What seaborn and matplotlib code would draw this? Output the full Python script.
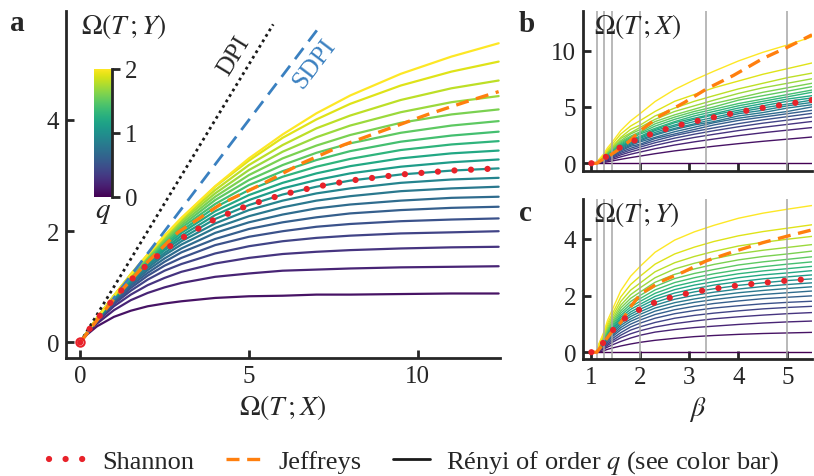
import numpy as np
import pandas as pd
import matplotlib
matplotlib.use('Agg')
import matplotlib.pyplot as plt
import seaborn as sns
from matplotlib.lines import Line2D

# Rényi orders (colour bar), q = 0 .. 2
q_orders = [0.0, 0.1, 0.2, 0.3, 0.4, 0.5, 0.6, 0.7, 0.8, 0.9, 1.0,
            1.1, 1.2, 1.3, 1.4, 1.5, 1.6, 1.7, 1.8, 1.9, 2.0]

# panel a: Omega(T;Y) read at fixed Omega(T;X) positions, one row per q = 0.1 .. 2.0
omega_tx_grid = [0, 0.2, 0.5, 1, 1.5, 2, 2.5, 3, 4, 5, 6, 7, 8, 9.5, 11, 12.4]
omega_ty_a = [
    [0, 0.14, 0.29, 0.46, 0.57, 0.65, 0.70, 0.74, 0.80, 0.83, 0.84, 0.86, 0.86, 0.87, 0.88, 0.88],
    [0, 0.16, 0.34, 0.58, 0.76, 0.89, 0.99, 1.07, 1.18, 1.24, 1.29, 1.31, 1.33, 1.35, 1.36, 1.37],
    [0, 0.16, 0.37, 0.65, 0.86, 1.03, 1.16, 1.27, 1.42, 1.52, 1.59, 1.63, 1.66, 1.69, 1.71, 1.72],
    [0, 0.17, 0.38, 0.69, 0.93, 1.13, 1.29, 1.41, 1.60, 1.73, 1.82, 1.88, 1.92, 1.96, 1.98, 2.00],
    [0, 0.17, 0.39, 0.71, 0.98, 1.20, 1.38, 1.52, 1.75, 1.90, 2.00, 2.08, 2.13, 2.18, 2.21, 2.23],
    [0, 0.17, 0.40, 0.74, 1.02, 1.25, 1.45, 1.62, 1.86, 2.04, 2.16, 2.25, 2.32, 2.38, 2.42, 2.44],
    [0, 0.17, 0.41, 0.75, 1.05, 1.30, 1.51, 1.69, 1.97, 2.16, 2.30, 2.41, 2.48, 2.55, 2.60, 2.62],
    [0, 0.17, 0.41, 0.77, 1.08, 1.34, 1.57, 1.76, 2.06, 2.27, 2.43, 2.55, 2.63, 2.72, 2.77, 2.80],
    [0, 0.18, 0.42, 0.78, 1.10, 1.38, 1.61, 1.82, 2.14, 2.38, 2.55, 2.68, 2.77, 2.87, 2.93, 2.96],
    [0, 0.18, 0.42, 0.79, 1.12, 1.41, 1.66, 1.87, 2.22, 2.47, 2.66, 2.80, 2.91, 3.02, 3.09, 3.13],
    [0, 0.18, 0.42, 0.80, 1.14, 1.43, 1.69, 1.92, 2.29, 2.56, 2.77, 2.92, 3.04, 3.16, 3.24, 3.29],
    [0, 0.18, 0.43, 0.81, 1.15, 1.46, 1.73, 1.97, 2.36, 2.65, 2.87, 3.04, 3.17, 3.31, 3.40, 3.45],
    [0, 0.18, 0.43, 0.82, 1.17, 1.48, 1.77, 2.01, 2.43, 2.74, 2.98, 3.16, 3.30, 3.46, 3.56, 3.62],
    [0, 0.18, 0.43, 0.82, 1.18, 1.50, 1.80, 2.06, 2.49, 2.83, 3.08, 3.28, 3.44, 3.61, 3.72, 3.79],
    [0, 0.18, 0.43, 0.83, 1.19, 1.52, 1.83, 2.10, 2.56, 2.92, 3.19, 3.41, 3.58, 3.77, 3.90, 3.98],
    [0, 0.18, 0.44, 0.83, 1.20, 1.54, 1.85, 2.14, 2.62, 3.01, 3.31, 3.54, 3.73, 3.95, 4.10, 4.19],
    [0, 0.18, 0.44, 0.84, 1.21, 1.56, 1.88, 2.18, 2.68, 3.10, 3.43, 3.69, 3.90, 4.14, 4.32, 4.43],
    [0, 0.18, 0.44, 0.84, 1.22, 1.57, 1.90, 2.21, 2.74, 3.19, 3.55, 3.85, 4.08, 4.36, 4.57, 4.71],
    [0, 0.18, 0.44, 0.84, 1.23, 1.58, 1.92, 2.23, 2.80, 3.27, 3.68, 4.01, 4.29, 4.62, 4.87, 5.05],
    [0, 0.18, 0.44, 0.84, 1.22, 1.58, 1.92, 2.24, 2.81, 3.31, 3.74, 4.12, 4.44, 4.83, 5.14, 5.38],
]

# panels b and c: values against beta, one row per q = 0 .. 2
beta_grid = [1.0, 1.111, 1.16, 1.25, 1.33, 1.43, 1.6, 1.8, 2.0, 2.3, 2.7, 3.1, 3.5, 4.0, 4.5, 5.0, 5.5]
omega_tx_b = [
    [0, 0, 0, 0, 0, 0, 0, 0, 0, 0, 0, 0, 0, 0, 0, 0, 0],
    [0, 0, 0.02, 0.07, 0.13, 0.21, 0.35, 0.50, 0.64, 0.85, 1.10, 1.31, 1.51, 1.74, 1.95, 2.14, 2.33],
    [0, 0, 0.05, 0.13, 0.23, 0.35, 0.57, 0.80, 1.00, 1.29, 1.62, 1.90, 2.15, 2.45, 2.71, 2.94, 3.17],
    [0, 0, 0.07, 0.18, 0.31, 0.46, 0.74, 1.01, 1.25, 1.59, 1.97, 2.29, 2.57, 2.90, 3.19, 3.45, 3.71],
    [0, 0, 0.09, 0.22, 0.38, 0.55, 0.87, 1.18, 1.44, 1.82, 2.23, 2.58, 2.89, 3.24, 3.56, 3.83, 4.11],
    [0, 0, 0.10, 0.26, 0.44, 0.63, 0.99, 1.33, 1.60, 2.01, 2.46, 2.82, 3.14, 3.52, 3.85, 4.14, 4.43],
    [0, 0, 0.1, 0.3, 0.5, 0.7, 1.1, 1.5, 1.7, 2.2, 2.6, 3.0, 3.4, 3.8, 4.1, 4.4, 4.7],
    [0, 0, 0.1, 0.3, 0.5, 0.8, 1.2, 1.6, 1.9, 2.3, 2.8, 3.2, 3.6, 4.0, 4.3, 4.6, 5.0],
    [0, 0, 0.2, 0.3, 0.6, 0.8, 1.3, 1.7, 2.0, 2.5, 3.0, 3.4, 3.7, 4.2, 4.5, 4.9, 5.2],
    [0, 0, 0.2, 0.4, 0.6, 0.9, 1.4, 1.8, 2.1, 2.6, 3.1, 3.5, 3.9, 4.4, 4.7, 5.1, 5.4],
    [0, 0, 0.18, 0.41, 0.68, 0.95, 1.45, 1.88, 2.22, 2.74, 3.28, 3.70, 4.08, 4.54, 4.92, 5.25, 5.61],
    [0, 0, 0.2, 0.4, 0.7, 1.0, 1.5, 2.0, 2.3, 2.9, 3.4, 3.9, 4.3, 4.7, 5.1, 5.5, 5.8],
    [0, 0, 0.2, 0.5, 0.8, 1.1, 1.6, 2.1, 2.4, 3.0, 3.6, 4.0, 4.4, 4.9, 5.3, 5.7, 6.0],
    [0, 0, 0.2, 0.5, 0.8, 1.1, 1.7, 2.2, 2.6, 3.1, 3.7, 4.2, 4.6, 5.1, 5.5, 5.9, 6.3],
    [0, 0, 0.2, 0.5, 0.9, 1.2, 1.8, 2.3, 2.7, 3.3, 3.9, 4.4, 4.8, 5.3, 5.7, 6.1, 6.5],
    [0, 0, 0.3, 0.6, 0.9, 1.3, 1.9, 2.4, 2.8, 3.5, 4.1, 4.6, 5.0, 5.6, 6.0, 6.4, 6.8],
    [0, 0, 0.3, 0.6, 1.0, 1.3, 2.0, 2.6, 3.0, 3.7, 4.3, 4.8, 5.3, 5.8, 6.3, 6.7, 7.1],
    [0, 0, 0.3, 0.6, 1.1, 1.4, 2.2, 2.7, 3.2, 3.9, 4.6, 5.1, 5.6, 6.2, 6.7, 7.1, 7.5],
    [0, 0, 0.3, 0.7, 1.1, 1.5, 2.3, 3.0, 3.4, 4.2, 4.9, 5.5, 6.0, 6.6, 7.1, 7.6, 8.0],
    [0, 0, 0.3, 0.7, 1.2, 1.7, 2.6, 3.3, 3.8, 4.6, 5.5, 6.1, 6.7, 7.3, 7.9, 8.4, 8.9],
    [0, 0, 0.36, 0.81, 1.37, 1.90, 2.90, 3.76, 4.43, 5.48, 6.55, 7.40, 8.17, 9.08, 9.85, 10.50, 11.22],
]
omega_ty_c = [
    [0, 0, 0, 0, 0, 0, 0, 0, 0, 0, 0, 0, 0, 0, 0, 0, 0],
    [0, 0, 0.01, 0.05, 0.10, 0.15, 0.22, 0.29, 0.35, 0.42, 0.49, 0.55, 0.59, 0.63, 0.66, 0.68, 0.70],
    [0, 0, 0.04, 0.11, 0.18, 0.26, 0.38, 0.50, 0.60, 0.71, 0.80, 0.87, 0.92, 0.98, 1.03, 1.07, 1.10],
    [0, 0, 0.06, 0.14, 0.24, 0.35, 0.51, 0.65, 0.76, 0.89, 1.01, 1.10, 1.18, 1.25, 1.31, 1.36, 1.40],
    [0, 0, 0.07, 0.18, 0.29, 0.41, 0.60, 0.78, 0.90, 1.05, 1.20, 1.30, 1.38, 1.46, 1.53, 1.58, 1.62],
    [0, 0, 0.08, 0.21, 0.34, 0.48, 0.69, 0.89, 1.03, 1.20, 1.36, 1.47, 1.56, 1.64, 1.71, 1.76, 1.80],
    [0, 0, 0.10, 0.24, 0.40, 0.55, 0.79, 0.99, 1.14, 1.33, 1.50, 1.62, 1.72, 1.81, 1.89, 1.94, 1.99],
    [0, 0, 0.12, 0.27, 0.44, 0.60, 0.87, 1.09, 1.24, 1.45, 1.63, 1.76, 1.86, 1.96, 2.04, 2.10, 2.16],
    [0, 0, 0.13, 0.30, 0.48, 0.65, 0.95, 1.17, 1.34, 1.56, 1.75, 1.88, 1.99, 2.10, 2.18, 2.25, 2.31],
    [0, 0, 0.15, 0.32, 0.52, 0.71, 1.02, 1.26, 1.43, 1.66, 1.87, 2.01, 2.12, 2.23, 2.32, 2.39, 2.45],
    [0, 0, 0.16, 0.35, 0.56, 0.76, 1.09, 1.34, 1.52, 1.76, 1.98, 2.13, 2.24, 2.36, 2.45, 2.53, 2.59],
    [0, 0, 0.17, 0.37, 0.60, 0.81, 1.16, 1.42, 1.61, 1.87, 2.09, 2.24, 2.37, 2.49, 2.59, 2.66, 2.73],
    [0, 0, 0.19, 0.40, 0.64, 0.86, 1.23, 1.51, 1.70, 1.97, 2.21, 2.37, 2.49, 2.63, 2.73, 2.80, 2.88],
    [0, 0, 0.20, 0.42, 0.68, 0.91, 1.30, 1.60, 1.80, 2.08, 2.33, 2.49, 2.63, 2.77, 2.87, 2.95, 3.03],
    [0, 0, 0.22, 0.45, 0.73, 0.97, 1.38, 1.69, 1.90, 2.20, 2.46, 2.63, 2.77, 2.91, 3.02, 3.11, 3.19],
    [0, 0, 0.23, 0.48, 0.77, 1.03, 1.46, 1.79, 2.01, 2.32, 2.60, 2.78, 2.92, 3.08, 3.19, 3.28, 3.37],
    [0, 0, 0.25, 0.51, 0.82, 1.09, 1.56, 1.90, 2.13, 2.47, 2.75, 2.94, 3.10, 3.26, 3.38, 3.47, 3.57],
    [0, 0, 0.26, 0.55, 0.88, 1.17, 1.66, 2.03, 2.28, 2.63, 2.94, 3.14, 3.30, 3.48, 3.60, 3.70, 3.80],
    [0, 0, 0.28, 0.59, 0.95, 1.26, 1.79, 2.19, 2.45, 2.84, 3.16, 3.38, 3.56, 3.75, 3.88, 3.99, 4.09],
    [0, 0, 0.30, 0.64, 1.02, 1.36, 1.95, 2.39, 2.69, 3.11, 3.47, 3.71, 3.91, 4.11, 4.26, 4.38, 4.50],
    [0, 0, 0.32, 0.69, 1.12, 1.51, 2.17, 2.68, 3.04, 3.53, 3.96, 4.25, 4.48, 4.73, 4.91, 5.05, 5.18],
]

# Jeffreys (orange dashes)
jeff_beta = [1.0, 1.111, 1.2, 1.3, 1.43, 1.6, 1.8, 2.0, 2.4, 2.9, 3.35, 3.9, 4.5, 5.0, 5.5]
jeff_tx_b = [0, 0, 0.25, 0.5, 0.85, 1.35, 2.05, 2.9, 4.2, 5.4, 6.6, 7.8, 9.3, 10.3, 11.4]
jeff_ty_c = [0, 0, 0.2, 0.45, 0.75, 1.05, 1.6, 2.05, 2.48, 2.85, 3.23, 3.55, 3.87, 4.1, 4.32]
jeff_tx_a = [0, 0.25, 0.5, 1, 1.5, 2.0, 2.9, 4.2, 5.4, 6.6, 7.8, 9.3, 10.3, 11.4, 12.4]
jeff_ty_a = [0, 0.2, 0.4, 0.78, 1.12, 1.45, 1.98, 2.5, 2.85, 3.23, 3.55, 3.88, 4.1, 4.32, 4.51]

# DPI / SDPI bounds and critical betas (grey lines)
dpi_x, dpi_y = [0, 5.72], [0, 5.72]
sdpi_x, sdpi_y = [0, 7.16], [0, 5.73]
beta_crit = [1.111, 1.25, 1.429, 2.0, 3.333, 5.0]

sns.set_theme(style='ticks')
plt.rcParams['font.family'] = ['Liberation Serif', 'DejaVu Serif']
plt.rcParams['mathtext.fontset'] = 'stix'

red = '#e8222a'
orange = '#ff7f0e'
blue = '#3a80c0'


def long_form(grid, table, qs):
    return pd.DataFrame({'x': np.tile(grid, len(qs)),
                         'y': np.ravel(table),
                         'q': np.repeat(qs, len(grid))})


df_a = long_form(omega_tx_grid, omega_ty_a, q_orders[1:])
df_b = long_form(beta_grid, omega_tx_b, q_orders)
df_c = long_form(beta_grid, omega_ty_c, q_orders)
i_shannon = q_orders.index(1.0)

W, H = 814, 477
fig = plt.figure(figsize=(8.14, 4.77), dpi=100)
ax_a = fig.add_axes([66 / W, 1 - 359 / H, 434 / W, 347 / H])
ax_b = fig.add_axes([583 / W, 1 - 171.7 / H, 229 / W, 160 / H])
ax_c = fig.add_axes([583 / W, 1 - 360 / H, 229 / W, 160 / H])

curve_kw = dict(x='x', y='y', hue='q', palette='viridis', hue_norm=(0, 2),
                estimator=None, sort=False, legend=False)
sns.lineplot(data=df_a, ax=ax_a, lw=1.6, **curve_kw)
sns.lineplot(data=df_b, ax=ax_b, lw=1.0, **curve_kw)
sns.lineplot(data=df_c, ax=ax_c, lw=1.0, **curve_kw)
for ax in (ax_b, ax_c):
    for b in beta_crit:
        ax.axvline(b, color='#a6a6a6', lw=1.1, zorder=2.5)

dots = dict(color=red, lw=4.5, linestyle=(0, (0.01, 2.64)), dash_capstyle='round', zorder=4)
dash = dict(color=orange, lw=2.4, linestyle=(0, (3.9, 2.3)), zorder=3.5)
sns.lineplot(x=omega_tx_grid, y=omega_ty_a[i_shannon - 1], ax=ax_a, **dots)
sns.lineplot(x=beta_grid, y=omega_tx_b[i_shannon], ax=ax_b, **dots)
sns.lineplot(x=beta_grid, y=omega_ty_c[i_shannon], ax=ax_c, **dots)
ax_a.plot([0], [0], 'o', ms=6, mfc='none', mec=red, mew=1.5, zorder=5)
sns.lineplot(x=jeff_tx_a, y=jeff_ty_a, ax=ax_a, **dash)
sns.lineplot(x=jeff_beta, y=jeff_tx_b, ax=ax_b, **dash)
sns.lineplot(x=jeff_beta, y=jeff_ty_c, ax=ax_c, **dash)

sns.lineplot(x=dpi_x, y=dpi_y, ax=ax_a, color='k', lw=2, linestyle=(0, (1, 1.3)))
sns.lineplot(x=sdpi_x, y=sdpi_y, ax=ax_a, color=blue, lw=2, linestyle=(0, (5, 3)))
ax_a.text(4.55, 5.17, 'DPI', rotation=58.7, ha='center', va='center', fontsize=18.5)
ax_a.text(6.95, 5.02, 'SDPI', rotation=52.8, ha='center', va='center', fontsize=18.5, color=blue)

for ax in (ax_a, ax_b, ax_c):
    sns.despine(ax=ax)
    for s in ('left', 'bottom'):
        ax.spines[s].set_linewidth(2)
    ax.tick_params(direction='in', length=6, width=2, labelsize=18, pad=5)
    ax.set_ylabel('')

ax_a.set_xlim(-0.42, 12.44)
ax_a.set_ylim(-0.28, 5.96)
ax_a.set_xticks([0, 5, 10])
ax_a.set_yticks([0, 2, 4])
ax_a.set_xlabel(r'$\Omega(T\,;X)$', fontsize=20)
ax_a.text(0.035, 1.0, r'$\Omega(T\,;Y)$', transform=ax_a.transAxes, fontsize=20, va='top')

ax_b.set_xlim(0.83, 5.5)
ax_b.set_ylim(-0.66, 13.54)
ax_b.set_xticks([1, 2, 3, 4, 5])
ax_b.set_xticklabels([])
ax_b.set_yticks([0, 5, 10])
ax_b.set_xlabel('')
ax_b.text(0.05, 1.0, r'$\Omega(T\,;X)$', transform=ax_b.transAxes, fontsize=20, va='top')

ax_c.set_xlim(0.83, 5.5)
ax_c.set_ylim(-0.24, 5.41)
ax_c.set_xticks([1, 2, 3, 4, 5])
ax_c.set_yticks([0, 2, 4])
ax_c.set_xlabel(r'$\beta$', fontsize=20)
ax_c.text(0.05, 1.0, r'$\Omega(T\,;Y)$', transform=ax_c.transAxes, fontsize=20, va='top')

# colour bar for q
cax = fig.add_axes([94 / W, 1 - 198 / H, 18 / W, 128 / H])
cax.imshow(np.linspace(0, 2, 256)[:, None], aspect='auto', cmap='viridis', origin='lower', extent=[0, 1, 0, 2])
for s in ('top', 'left', 'bottom'):
    cax.spines[s].set_visible(False)
cax.spines['right'].set_linewidth(2)
cax.yaxis.tick_right()
cax.set_xticks([])
cax.set_yticks([0, 1, 2])
cax.tick_params(axis='y', direction='out', length=6, width=2, labelsize=18, pad=3)
fig.text(103 / W, 1 - 213 / H, r'$q$', fontsize=21, ha='center', va='center')

fig.text(10 / W, 1 - 31 / H, 'a', fontsize=21, fontweight='bold')
fig.text(519 / W, 1 - 32 / H, 'b', fontsize=21, fontweight='bold')
fig.text(519 / W, 1 - 221 / H, 'c', fontsize=21, fontweight='bold')

handles = [Line2D([], [], **dots), Line2D([], [], **dash), Line2D([], [], color='k', lw=2)]
fig.legend(handles, ['Shannon', 'Jeffreys', r'Rényi of order $q$ (see color bar)'], loc='center',
           bbox_to_anchor=(0.509, 0.029), ncol=3, frameon=False, fontsize=19, handlelength=1.4,
           handletextpad=0.6, columnspacing=1.2, borderaxespad=0)

fig.savefig('out.png', dpi=100)
